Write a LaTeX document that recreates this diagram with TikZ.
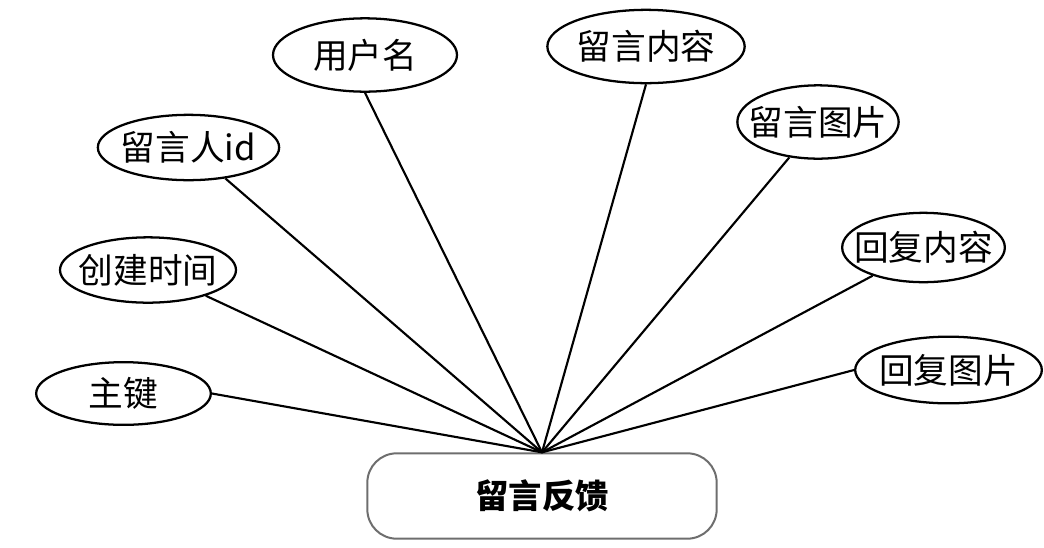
\documentclass[tikz,border=0pt]{standalone}
\usepackage{fontspec}
\setmainfont{Noto Sans CJK SC}
\usetikzlibrary{shapes.geometric}
\begin{document}
\begin{tikzpicture}[x=0.75pt,y=-0.75pt,
  attr/.style={ellipse,draw=black,line width=1.7pt,inner sep=0pt,label={[font=\fontsize{26}{30}\selectfont,inner sep=0pt]center:#1}},
  entity/.style={rectangle,rounded corners=22pt,draw={rgb,255:red,110;green,110;blue,110},line width=1.5pt,minimum width=262pt,minimum height=64pt,font=\fontsize{25}{30}\selectfont\bfseries},
  link/.style={draw=black,line width=1.6pt}]
\useasboundingbox (0,0) rectangle (1044,547);
\node[attr=主键,minimum width=131pt,minimum height=47pt] (zj) at (123.5,393.5) {};
\node[attr=创建时间,minimum width=132pt,minimum height=49pt] (cj) at (148,270) {};
\node[attr=留言人id,minimum width=136pt,minimum height=49pt] (ly) at (188.5,147.5) {};
\node[attr=用户名,minimum width=138pt,minimum height=55pt] (yh) at (365,55) {};
\node[attr=留言内容,minimum width=148pt,minimum height=55pt] (nr) at (646,46.5) {};
\node[attr=留言图片,minimum width=121pt,minimum height=55pt] (tp) at (818,122) {};
\node[attr=回复内容,minimum width=122pt,minimum height=52pt] (hn) at (923.5,247.5) {};
\node[attr=回复图片,minimum width=140pt,minimum height=50pt] (ht) at (948.5,370) {};
\node[entity] (fk) at (542,496) {留言反馈};
\draw[link] (zj.east) -- (fk.north);
\draw[link] (cj.-24) -- (fk.north);
\draw[link] (ly.-40) -- (fk.north);
\draw[link] (yh.south) -- (fk.north);
\draw[link] (nr.south) -- (fk.north);
\draw[link] (tp.-129) -- (fk.north);
\draw[link] (hn.-151) -- (fk.north);
\draw[link] (ht.west) -- (fk.north);
\end{tikzpicture}
\end{document}
